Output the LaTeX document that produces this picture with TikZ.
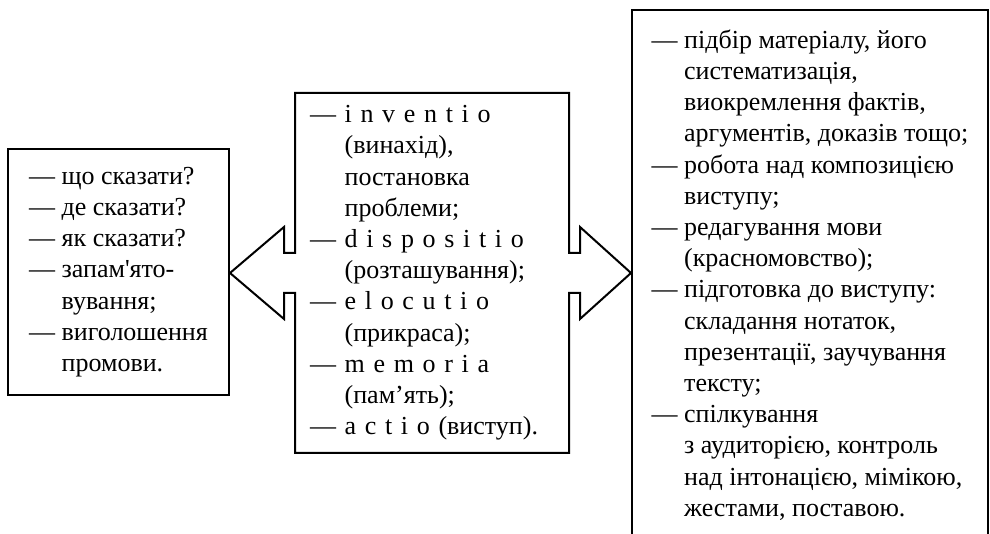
\documentclass[tikz,border=0pt]{standalone}
\usepackage{fontspec}
\setmainfont{Liberation Serif}
\usetikzlibrary{positioning, calc}

% indent of a continuation line (width of the dash and its space)
\newcommand{\rind}{\hphantom{— }}

\begin{document}
\begin{tikzpicture}[
    x=0.5pt, y=0.5pt,
    % Global Styles
    box/.style={
        rectangle,
        draw=black,
        line width=1pt,
        align=left,
        inner sep=0pt,
        font=\fontsize{13pt}{15.6pt}\selectfont
    },
    outline/.style={
        draw=black,
        line width=1pt,
        line join=miter
    }
]
    \clip (0,0) rectangle (990,534);

    % --- Placement of Nodes ---

    % Left box: the questions
    \node[box, minimum width=110.5pt, minimum height=123pt] (ask) at (118.5,262) {%
        — що сказати?\\
        — де сказати?\\
        — як сказати?\\
        — запам\textquotesingle ято-\\
        \rind вування;\\
        — виголошення\\
        \rind промови.};

    % Middle box: the five canons (outline drawn below)
    \node[box, draw=none, minimum width=136pt, minimum height=179pt, text width=122pt] (canon) at (432,261) {%
        — i n v e n t i o\\
        \rind(винахід),\\
        \rind постановка\\
        \rind проблеми;\\
        — d i s p o s i t i o\\
        \rind(розташування);\\
        — e l o c u t i o\\
        \rind(прикраса);\\
        — m e m o r i a\\
        \rind(пам’ять);\\
        — a c t i o (виступ).};

    % Right box: the work itself
    \node[box, minimum width=178pt, minimum height=265pt] (work) at (810,259) {%
        — підбір матеріалу, його\\
        \rind систематизація,\\
        \rind виокремлення фактів,\\
        \rind аргументів, доказів тощо;\\
        — робота над композицією\\
        \rind виступу;\\
        — редагування мови\\
        \rind(красномовство);\\
        — підготовка до виступу:\\
        \rind складання нотаток,\\
        \rind презентації, заучування\\
        \rind тексту;\\
        — спілкування\\
        \rind з аудиторією, контроль\\
        \rind над інтонацією, мімікою,\\
        \rind жестами, поставою.};

    % --- Middle box with its two arrows ---
    \draw[outline]
        (canon.north west) -- (canon.north east)
        -- ($(canon.east)+(0,20)$) -- ++(11,0) -- ++(0,26)
        -- (work.west |- canon.east)
        -- ($(canon.east)+(11,-46)$) -- ++(0,26) -- ($(canon.east)+(0,-20)$)
        -- (canon.south east) -- (canon.south west)
        -- ($(canon.west)+(0,-20)$) -- ++(-11,0) -- ++(0,-26)
        -- (ask.east |- canon.west)
        -- ($(canon.west)+(-11,46)$) -- ++(0,-26) -- ($(canon.west)+(0,20)$)
        -- cycle;

\end{tikzpicture}
\end{document}
